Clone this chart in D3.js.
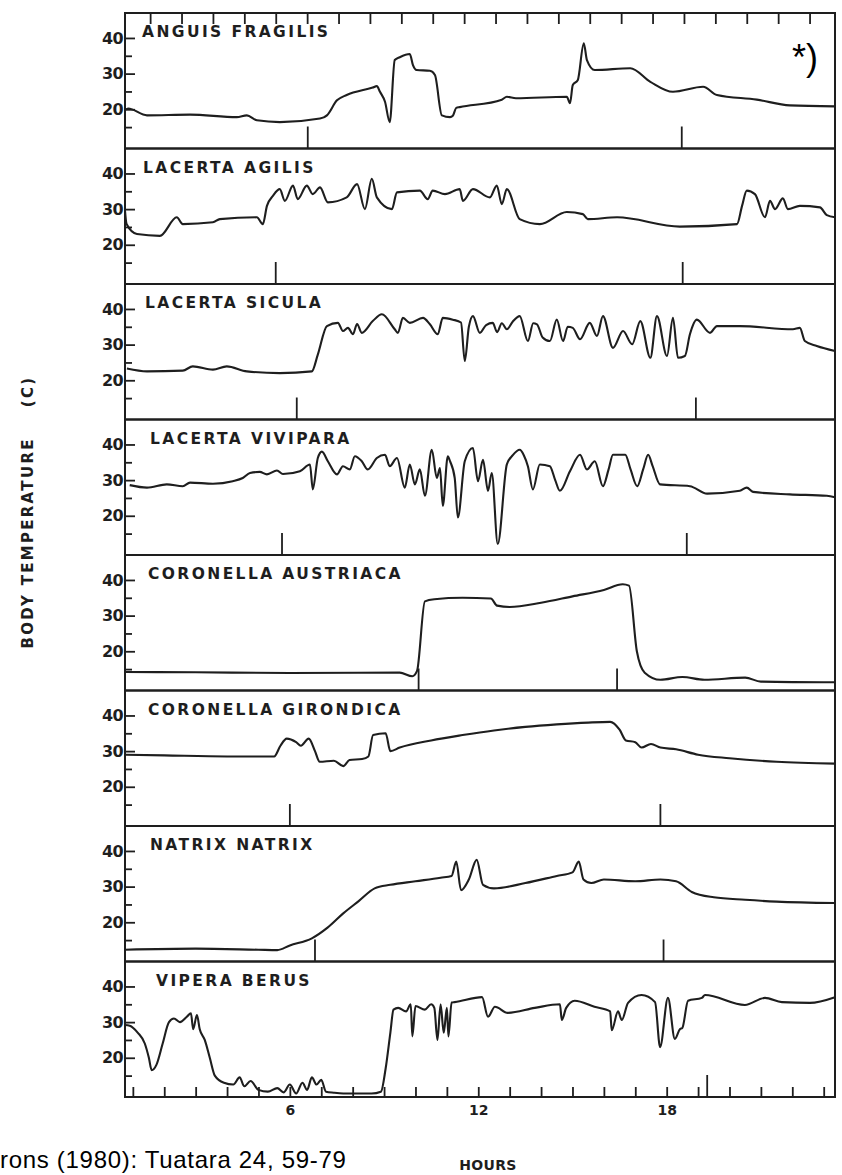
<!DOCTYPE html>
<html>
<head>
<meta charset="utf-8">
<script src="https://cdn.jsdelivr.net/npm/d3@7"></script>
<style>
  body { margin: 0; background: #fff; }
  svg { display: block; }
</style>
</head>
<body>
<div id="chart"></div>
<script>
// Body temperature of eight European reptiles over 24 h
// values: [hour, deg C]

const species = ['ANGUIS FRAGILIS', 'LACERTA AGILIS', 'LACERTA SICULA', 'LACERTA VIVIPARA',
  'CORONELLA AUSTRIACA', 'CORONELLA GIRONDICA', 'NATRIX NATRIX', 'VIPERA BERUS']

const anguis = [[0.75,19.8],[0.85,20.2],[1.45,18.3],[2.82,18.5],[4.31,17.8],[4.63,18.3],[4.95,16.9],
  [5.68,16.4],[6.96,17.4],[7.18,18.3],[7.50,22.5],[7.81,24],[8.64,26.1],[8.77,26.5],[8.87,24.9],
  [9.03,22.1],[9.18,16.4],[9.34,33.8],[9.50,34.6],[9.82,35.5],[9.92,32.4],[10.04,31],[10.46,30.8],
  [10.62,29.6],[10.84,18.3],[11.10,17.8],[11.19,18.2],[11.30,20.4],[11.41,20.6],[12.75,22.7],
  [12.91,23.5],[13.2,23.1],[14.82,23.5],[14.92,21.7],[15.01,26.8],[15.17,28.2],[15.36,38.5],
  [15.46,33.8],[15.71,31],[16.84,31.5],[17.48,27.7],[18.20,24.9],[19.16,26.3],[19.60,24],
  [20.87,22.7],[21.92,21.1],[23.36,20.8]]

const agilis = [[0.75,29.5],[0.80,25.8],[1.13,23],[1.86,22.5],[2.40,27.7],[2.59,25.8],[3.55,26.3],
  [3.77,27.2],[4.95,27.7],[5.14,25.8],[5.27,30.9],[5.46,33.7],[5.68,35.6],[5.84,32.3],[6.10,36.6],
  [6.25,32.8],[6.54,36.6],[6.73,34.2],[6.96,36.1],[7.21,31.9],[7.81,33.3],[8.14,37],[8.39,30],
  [8.61,38.5],[8.77,33.3],[9.25,30],[9.41,34.7],[10.14,35.2],[10.39,32.8],[10.55,35.2],[10.94,34.2],
  [11.41,35.6],[11.51,32.3],[11.83,35.6],[12.37,33.3],[12.59,36.6],[12.75,31.4],[12.91,35.6],
  [13.32,27.2],[13.96,25.8],[14.82,29.2],[15.33,28.6],[15.49,27.2],[16.42,27.7],[18.42,25.1],
  [20.24,25.8],[20.40,30.9],[20.55,35.2],[20.81,34.2],[21.13,27.7],[21.29,32.3],[21.45,30],
  [21.70,33],[21.86,30],[22.24,30.9],[22.88,30.5],[23.10,28.3],[23.36,27.7]]

const sicula = [[0.81,23.3],[1.45,22.5],[2.59,22.7],[2.91,23.9],[3.55,23],[3.99,23.9],[4.63,22.5],
  [5.68,22],[6.70,22.5],[6.89,27.2],[7.18,35.2],[7.53,36.1],[7.69,33.8],[7.85,34.7],[8.01,32.9],
  [8.14,35.8],[8.29,33.3],[8.64,36.6],[8.93,38.5],[9.34,34.3],[9.44,33.3],[9.60,37.5],[9.82,36.1],
  [10.24,37.5],[10.46,35.7],[10.71,32.9],[10.87,37.5],[11.19,37],[11.45,36.2],[11.57,25.4],
  [11.70,35],[11.83,38],[12.05,33.3],[12.25,35.5],[12.46,36.1],[12.6,33.5],[12.75,36],[12.91,34.3],
  [13.1,36.5],[13.32,38],[13.58,31],[13.75,36],[13.87,35.7],[14.05,32],[14.28,31],[14.50,37],
  [14.70,31],[14.85,35],[15.01,34.7],[15.24,31.5],[15.55,36.1],[15.78,32.4],[15.97,38],[16.29,29.1],
  [16.61,33.8],[16.90,30.1],[17.16,36.6],[17.48,26.3],[17.69,38],[18.01,26.8],[18.20,37.5],
  [18.36,26.3],[18.58,26.8],[18.74,32.9],[18.96,37],[19.38,33.3],[19.60,35.2],[20.33,35.2],
  [22.02,34.3],[22.24,34.7],[22.40,31],[22.78,29.6],[23.36,28.2]]

const vivipara = [[0.90,28.6],[1.45,27.9],[2.08,28.8],[2.59,28.3],[2.82,29.3],[3.55,29],[4.18,29.7],
  [4.50,30.6],[4.73,32],[5.04,32.3],[5.27,31.6],[5.59,32.7],[5.78,31.7],[6.32,32.5],[6.64,34.4],
  [6.73,27.4],[6.89,36.2],[7.02,38],[7.21,35.3],[7.50,31.6],[7.69,33.9],[7.91,33],[8.07,36.7],
  [8.29,35.3],[8.48,33],[8.77,36.2],[9.03,37.1],[9.18,33.9],[9.41,36.2],[9.66,27.9],[9.82,34.4],
  [9.98,28.8],[10.14,33],[10.30,25.6],[10.52,38.5],[10.68,30.6],[10.78,33.4],[10.87,22.8],
  [11.03,36.7],[11.10,35.3],[11.25,30.6],[11.35,19.5],[11.57,35.3],[11.83,39],[11.99,29.7],
  [12.15,35.7],[12.31,27],[12.43,32],[12.62,12.1],[12.91,34.4],[13.1,37],[13.32,38.5],[13.45,37],
  [13.58,33.9],[13.74,27.4],[13.96,34.4],[14.28,33.9],[14.45,30],[14.60,27],[14.92,32.5],[15.24,37.1],
  [15.46,33],[15.71,35.3],[15.97,28.3],[16.15,33],[16.29,37.1],[16.68,37.1],[16.85,33],[17.06,28.3],
  [17.25,33],[17.41,37.1],[17.55,34],[17.79,28.8],[18.74,28.3],[19.29,26.2],[20.33,27],[20.55,27.9],
  [20.75,26.7],[21.92,26],[23.10,25.6],[23.36,25.2]]

const austriaca = [[0.75,14.2],[3,14.1],[6,13.9],[9.5,14],[9.9,13],[10.05,14.5],[10.3,34],
  [10.6,34.6],[11.5,35],[12.4,34.8],[12.6,32.8],[13,32.4],[14,33.6],[15,35.4],[16,37.2],[16.6,38.8],
  [16.8,38.4],[17.05,20],[17.3,14],[17.8,12],[18.5,12.8],[19.2,12],[20.5,12.6],[21,11.5],[23.36,11.3]]

const girondica = [[0.75,29],[2,28.8],[4,28.5],[5.5,28.5],[5.7,31.5],[5.9,33.5],[6.2,32.5],[6.35,31.5],
  [6.6,33.5],[6.8,30],[6.95,27],[7.4,27.3],[7.7,25.8],[7.9,27.5],[8.3,27.8],[8.5,28.5],[8.65,34.5],
  [9.05,35],[9.2,30],[9.5,31],[10.5,33],[11.5,34.5],[12.5,35.8],[13.5,36.8],[14.5,37.5],[15.5,38],
  [16.2,38.2],[16.5,36],[16.7,33],[17,32.5],[17.2,31],[17.5,32],[17.8,31],[18.3,30.5],[19,29],
  [20,28],[21.5,27],[23.36,26.5]]

const natrix = [[0.75,12.3],[3,12.6],[5,12.3],[5.6,12.2],[6.0,13.5],[6.7,15.5],[7.2,18.5],[7.7,22.5],
  [8.2,26],[8.7,29.5],[9.2,30.5],[10,31.5],[10.8,32.5],[11.15,33],[11.3,37],[11.45,29],[11.7,32],
  [11.95,37.5],[12.15,30.5],[12.5,29.5],[13.5,31],[14.5,33],[15.0,34],[15.2,37],[15.35,32],[15.6,31],
  [16,32],[17,31.5],[17.8,32],[18.3,31.5],[18.8,28.5],[19.5,27],[20.5,26.3],[21.5,25.8],[23.36,25.4]]

const berus = [[0.75,29.2],[0.9,29],[1.16,27],[1.38,24],[1.51,20],[1.6,16.5],[1.75,18],[1.95,24],
  [2.15,30],[2.31,31],[2.5,30],[2.72,31.5],[2.85,32.5],[2.92,28],[3.04,32],[3.13,28],[3.29,25],
  [3.45,20],[3.61,15],[3.9,13],[4.2,12.5],[4.4,14.5],[4.55,12],[4.75,13.5],[5.0,11],[5.3,10.5],
  [5.6,11.5],[5.8,10.3],[6.0,12.5],[6.2,10],[6.4,13],[6.55,11],[6.7,14.5],[6.85,12.5],[7.0,13.8],
  [7.15,10.5],[7.4,10.2],[7.7,10],[8.2,10],[8.6,10],[8.9,10.5],[9.05,17],[9.2,27],[9.3,33.5],
  [9.45,34],[9.7,33],[9.85,35],[9.9,26],[10.0,34.5],[10.3,33.5],[10.5,35],[10.6,34],[10.7,25],
  [10.8,35],[10.9,27],[11.0,34],[11.05,26],[11.15,35.5],[11.25,35.6],[12.12,37],[12.31,31.5],
  [12.53,34.3],[12.94,32.6],[13.8,34],[14.6,35],[14.66,30.6],[14.8,34],[15.07,36],[15.7,34.3],
  [16.2,33],[16.25,27.7],[16.45,33],[16.57,30.6],[16.77,35.4],[17.2,37.6],[17.63,35.6],[17.79,23],
  [18.04,36.8],[18.26,25.3],[18.42,28],[18.5,28.4],[18.68,36],[19.12,36.8],[19.22,37.6],[20.49,34.8],
  [21.13,36.8],[21.67,35.6],[22.56,35.4],[23.36,37]]

const series = [anguis, agilis, sicula, vivipara, austriaca, girondica, natrix, berus]

// sunrise / sunset marks drawn up from the bottom of each panel (hours)
const dayMarks = [[6.57, 18.48], [5.55, 18.51], [6.22, 18.93], [5.75, 18.64],
  [10.1, 16.42], [6.0, 17.8], [6.8, 17.9], [19.29]]

const hourTicks = d3.range(1, 24)
const hourLabels = [6, 12, 18]
const majorTemps = [20, 30, 40]
const minorTemps = [15, 25, 35]

const W = 842, H = 1175
const frameL = 125, frameR = 835, frameT = 13, panelH = 135.5
const labelX = [142, 143, 145, 150, 148, 148, 150, 156]
const ink = '#1e1e1e'

const svg = d3.select('#chart').append('svg')
  .attr('width', W).attr('height', H)

const x = d3.scaleLinear().domain([0.75, 23.36]).range([frameL, frameR])
const y = d3.scaleLinear().domain([9, 47]).range([panelH, 0])

// pen-recorder trace: monotone curve keeps the peaks but rounds the corners
const line = d3.line().x(d => x(d[0])).y(d => y(d[1])).curve(d3.curveMonotoneX)

species.forEach((name, i) => {
  const g = svg.append('g').attr('transform', `translate(0,${frameT + i * panelH})`)

  // minor + major temperature ticks (pointing inward)
  g.append('g').attr('transform', `translate(${frameL},0)`)
    .call(d3.axisLeft(y).tickValues(minorTemps).tickSize(-7).tickFormat(''))
    .call(a => a.select('.domain').remove())
    .call(a => a.selectAll('line').attr('stroke', ink).attr('stroke-width', 1.8))

  g.append('g').attr('transform', `translate(${frameL},0)`)
    .call(d3.axisLeft(y).tickValues(majorTemps).tickSize(-10).tickPadding(2))
    .call(a => a.select('.domain').remove())
    .call(a => a.selectAll('line').attr('stroke', ink).attr('stroke-width', 1.8))
    .call(a => a.selectAll('text').attr('fill', ink)
      .style('font', 'bold 16px "DejaVu Sans"').attr('letter-spacing', -0.6))

  // panel frame
  g.append('rect')
    .attr('x', frameL).attr('y', 0)
    .attr('width', frameR - frameL).attr('height', panelH)
    .attr('fill', 'none').attr('stroke', ink).attr('stroke-width', 2)

  // day marks
  g.selectAll('.mark').data(dayMarks[i]).join('line')
    .attr('x1', d => x(d)).attr('x2', d => x(d))
    .attr('y1', panelH).attr('y2', panelH - 22)
    .attr('stroke', ink).attr('stroke-width', 1.8)

  g.append('path').datum(series[i])
    .attr('d', line)
    .attr('fill', 'none').attr('stroke', ink)
    .attr('stroke-width', 2.1).attr('stroke-linejoin', 'round')

  g.append('text')
    .attr('x', labelX[i]).attr('y', 24)
    .attr('fill', ink)
    .style('font', 'bold 15.5px "DejaVu Sans"')
    .attr('letter-spacing', 2.4)
    .text(name)
})

// hour ticks on top edge and bottom edge
svg.append('g').attr('transform', `translate(0,${frameT})`)
  .call(d3.axisTop(x).tickValues(hourTicks.slice(0, -1).map(h => h + 0.55)).tickSize(-11).tickFormat(''))
  .call(a => a.select('.domain').remove())
  .call(a => a.selectAll('line').attr('stroke', ink).attr('stroke-width', 1.8))

svg.append('g').attr('transform', `translate(0,${frameT + 8 * panelH})`)
  .call(d3.axisBottom(x).tickValues(hourTicks).tickSize(-10).tickPadding(8)
    .tickFormat(d => hourLabels.includes(d) ? d : ''))
  .call(a => a.select('.domain').remove())
  .call(a => a.selectAll('line').attr('stroke', ink).attr('stroke-width', 1.8))
  .call(a => a.selectAll('text').attr('fill', ink).style('font', 'bold 14px "DejaVu Sans"'))

svg.append('text')
  .attr('transform', 'translate(33,512) rotate(-90)')
  .attr('text-anchor', 'middle')
  .attr('fill', ink)
  .style('font', 'bold 15px "DejaVu Sans"')
  .attr('letter-spacing', 2.3)
  .attr('xml:space', 'preserve')
  .text('BODY TEMPERATURE    (C)')

svg.append('text')
  .attr('x', 488).attr('y', 1170)
  .attr('text-anchor', 'middle')
  .attr('fill', ink)
  .style('font', 'bold 14px "DejaVu Sans"')
  .attr('letter-spacing', 0.3)
  .text('HOURS')

svg.append('text')
  .attr('x', 792).attr('y', 70)
  .attr('fill', '#000')
  .style('font', '36px "Liberation Sans"')
  .text('*)')

svg.append('text')
  .attr('x', 0).attr('y', 1168)
  .attr('fill', '#000')
  .style('font', '24px "Liberation Sans"')
  .attr('letter-spacing', 0.7)
  .text('rons (1980): Tuatara 24, 59-79')
</script>
</body>
</html>
